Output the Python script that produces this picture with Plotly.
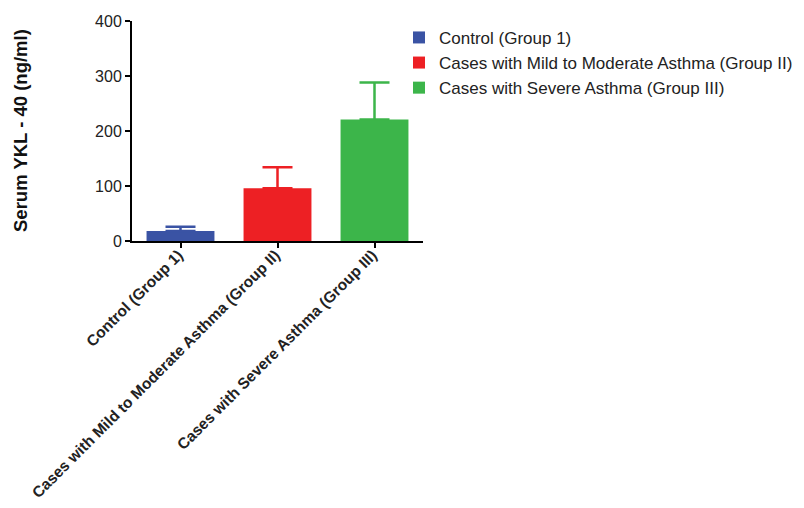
import plotly.graph_objects as go

categories = ["Control (Group 1)",
              "Cases with Mild to Moderate Asthma (Group II)",
              "Cases with Severe Asthma (Group III)"]
means = [18, 96, 221]
errors = [8, 38, 67]
colors = ["#3a53a4", "#ed2024", "#3cb54a"]
y_ticks = [0, 100, 200, 300, 400]
y_title = "Serum YKL - 40 (ng/ml)"

FONT = "Liberation Sans, Arial, sans-serif"

fig = go.Figure()
for i, (c, m, e, col) in enumerate(zip(categories, means, errors, colors)):
    fig.add_trace(go.Bar(
        x=[c], y=[m], name=c, width=0.7,
        marker=dict(color=col, line=dict(width=0)),
        error_y=dict(type="data", array=[e], arrayminus=[0], symmetric=False,
                     color=col, thickness=2.5, width=15),
    ))

fig.update_layout(
    width=804, height=508,
    margin=dict(l=132, r=381, t=21, b=267, autoexpand=False),
    plot_bgcolor="white", paper_bgcolor="white",
    barmode="overlay",
    font=dict(family=FONT, color="#222", size=16),
    showlegend=True,
    legend=dict(x=399 / 804, y=1.005, xref="container", yref="paper",
                xanchor="left", yanchor="top",
                font=dict(size=17, color="#222", family=FONT),
                traceorder="normal",
                bgcolor="rgba(0,0,0,0)"),
)
fig.add_annotation(
    text=y_title, textangle=-90, showarrow=False,
    xref="paper", yref="paper", x=(20 - 132) / 291, y=0.5,
    xanchor="center", yanchor="middle",
    font=dict(size=18.5, color="#111", family=FONT, weight="bold"),
)
fig.update_xaxes(
    type="category", categoryarray=categories, range=[-0.5, 2.5],
    automargin=False,
    showline=True, linecolor="black", linewidth=2,
    ticks="outside", ticklen=5, tickwidth=2, tickcolor="black",
    tickangle=-45, tickfont=dict(size=15.5, color="#222", family=FONT, weight="bold"),
    ticklabelstandoff=-8, ticklabelshift=-2,
    showgrid=False, zeroline=False,
)
fig.update_yaxes(
    range=[0, 400], tickvals=y_ticks,
    automargin=False,
    showline=True, linecolor="black", linewidth=2,
    ticks="outside", ticklen=5, tickwidth=2, tickcolor="black",
    tickfont=dict(size=16, color="#222", family=FONT),
    showgrid=False, zeroline=False,
)
fig.write_html("out.html", config={"displayModeBar": False},
               post_script="document.body.style.margin='0';document.body.style.overflow='hidden';")
